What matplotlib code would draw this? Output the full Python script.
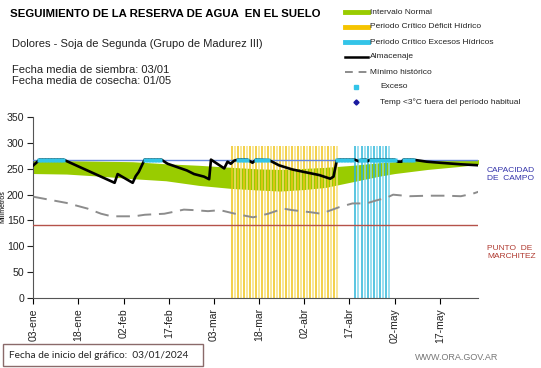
import matplotlib
matplotlib.use('Agg')
import matplotlib.pyplot as plt
from matplotlib.lines import Line2D
from matplotlib.patches import Rectangle

plt.rcParams['font.family'] = ['Liberation Sans', 'DejaVu Sans']

# days counted from 03/01/2024
tick_days = [0, 15, 30, 45, 60, 75, 90, 105, 120, 135]
tick_labels = ['03-ene', '18-ene', '02-feb', '17-feb', '03-mar', '18-mar',
               '02-abr', '17-abr', '02-may', '17-may']

cc = 268     # capacidad de campo
pmp = 142    # punto de marchitez

# intervalo normal
band_days = [0, 11, 22, 33, 44, 55, 66, 75, 82, 90, 97, 106, 115, 120, 131, 142, 148]
band_upper = [266, 266, 265, 264, 260, 257, 253, 250, 249, 251, 253, 257, 262, 264, 267, 268, 268]
band_lower = [241, 240, 236, 231, 227, 218, 212, 209, 207, 210, 214, 225, 236, 241, 249, 255, 259]

# almacenaje
alm_days = [0, 1, 2, 10, 27, 28, 33, 34, 35, 36.3, 37, 42.5, 44.6, 51, 53.4, 56.7, 58.4,
            59, 63.4, 64.5, 65.6, 66.7, 68, 71, 72.8, 74, 78.3, 81.6, 86, 90, 91.7, 95,
            98.6, 99.7, 100.8, 101.5, 106.7, 108, 109, 110.5, 111, 112, 120, 121, 122.3,
            123, 126, 130.7, 135, 141.8, 148]
alm_vals = [257, 262, 268, 268, 223, 240, 223, 236, 244, 260, 268, 268, 260, 247, 240, 235, 230,
            268, 251, 264, 260, 266, 268, 268, 262, 268, 267, 257, 249, 244, 242, 238,
            231, 235, 267, 268, 268, 265, 268, 268, 265, 268, 268, 264, 264,
            268, 268, 264, 262, 259, 257]

# minimo historico
min_days = [0, 11, 18, 22.5, 26, 33.5, 37, 43.5, 46, 50, 53.4, 58, 62, 67, 73, 78, 83, 86,
            92, 95.6, 97, 101.7, 106, 110.6, 114, 117.3, 119.5, 125, 131, 137, 142, 146, 148]
min_vals = [196, 184, 173, 163, 158, 158, 161, 163, 166, 171, 170, 168, 170, 163, 156, 163, 173, 170,
            166, 163, 166, 176, 183, 183, 189, 194, 200, 197, 198, 198, 197, 202, 206]

# dias de excesos (almacenaje en capacidad de campo)
exceso_days = [2, 3, 4, 5, 6, 7, 8, 9, 10, 37, 38, 39, 40, 41, 42, 68, 69, 70, 71, 74, 75, 76, 77, 78,
               101, 102, 103, 104, 105, 106, 108.5, 109, 110, 112, 113, 114, 115, 116, 117, 118, 119,
               120, 123, 124, 125, 126]

# periodos criticos
deficit_days = list(range(66, 102))
excesos_days = list(range(107, 119))
periodo_top = 295

fig = plt.figure(figsize=(5.41, 3.68), dpi=100)
ax = fig.add_axes([0.0616, 0.191, 0.822, 0.490])

ax.fill_between(band_days, band_lower, band_upper, color='#99cc00', lw=0, zorder=1)
for i, d in enumerate(deficit_days):
    ax.vlines(d, 0, periodo_top, color='#f0c419' if i % 2 == 0 else '#f7e07a', lw=1.1, zorder=2)
for i, d in enumerate(excesos_days):
    ax.vlines(d, 0, periodo_top, color='#2bb5d8' if i % 2 == 0 else '#7fd6ec', lw=1.1, zorder=2)

ax.axhline(cc, color='#6688dd', lw=1, zorder=3)
ax.axhline(pmp, color='#b5524a', lw=1, zorder=3)
ax.plot(min_days, min_vals, color='#8c8c8c', lw=1.4, dashes=(7, 4), zorder=4)
ax.plot(alm_days, alm_vals, color='black', lw=1.9, zorder=5)
ax.plot(exceso_days, [cc] * len(exceso_days), ls='none', marker='s', ms=2.2,
        mec='none', color='#33c4e8', zorder=6)

ax.set_xlim(0, 147.7)
ax.set_ylim(0, 350)
ax.set_yticks(range(0, 351, 50))
ax.set_xticks(tick_days)
ax.set_xticklabels(tick_labels, rotation=90, fontsize=7.5, color='#222222')
ax.tick_params(axis='y', labelsize=7.6, colors='#222222', length=4, pad=2.5)
ax.tick_params(axis='x', length=4)
for s in ['top', 'right']:
    ax.spines[s].set_visible(False)
for s in ['left', 'bottom']:
    ax.spines[s].set_color('#555555')
fig.text(3.2 / 541, 1 - 207 / 368, 'Milímetros', rotation=90, fontsize=5.0,
         ha='center', va='center')

# textos de cabecera
fig.text(10 / 541, 1 - 14 / 368, 'SEGUIMIENTO DE LA RESERVA DE AGUA  EN EL SUELO',
         fontsize=8.2, fontweight='bold', va='center')
fig.text(12 / 541, 1 - 44 / 368, 'Dolores - Soja de Segunda (Grupo de Madurez III)',
         fontsize=8, va='center', color='#222222')
fig.text(12 / 541, 1 - 70 / 368, 'Fecha media de siembra: 03/01', fontsize=8,
         va='center', color='#222222')
fig.text(12 / 541, 1 - 81 / 368, 'Fecha media de cosecha: 01/05', fontsize=8,
         va='center', color='#222222')

# leyenda manual
leg_x0, leg_x1, leg_tx = 345 / 541, 368 / 541, 370 / 541
rows = [12, 27, 42, 57, 72, 87, 102]
names = ['Intervalo Normal', 'Periodo Crítico Déficit Hídrico', 'Periodo Crítico Excesos Hídricos',
         'Almacenaje', 'Mínimo histórico', 'Exceso', 'Temp <3°C fuera del período habitual']
for r, n in zip(rows, names):
    y = 1 - r / 368
    tx = leg_tx if r < 85 else 380 / 541
    fig.text(tx, y, n, fontsize=6, va='center', color='#222222')
ys = [1 - r / 368 for r in rows]
fig.add_artist(Line2D([leg_x0, leg_x1], [ys[0]] * 2, color='#99cc00', lw=3.5))
fig.add_artist(Line2D([leg_x0, leg_x1], [ys[1]] * 2, color='#f5c400', lw=3.5))
fig.add_artist(Line2D([leg_x0, leg_x1], [ys[2]] * 2, color='#33c4e8', lw=3.5))
fig.add_artist(Line2D([leg_x0, leg_x1], [ys[3]] * 2, color='black', lw=1.8))
fig.add_artist(Line2D([leg_x0, leg_x1], [ys[4]] * 2, color='#8c8c8c', lw=1.4, dashes=(4, 3)))
fig.add_artist(Line2D([356 / 541], [ys[5]], marker='s', ms=2.2, color='#33c4e8', ls='none'))
fig.add_artist(Line2D([356 / 541], [ys[6]], marker='D', ms=2.6, color='#1a1aa0', ls='none'))

# etiquetas de la derecha
fig.text(487 / 541, 1 - 174 / 368, 'CAPACIDAD\nDE  CAMPO', fontsize=6, color='#3333aa',
         va='center', linespacing=1.2)
fig.text(487 / 541, 1 - 253 / 368, 'PUNTO  DE\nMARCHITEZ', fontsize=6, color='#b03a30',
         va='center', linespacing=1.2)

# pie
fig.add_artist(Rectangle((3 / 541, 1 - 366 / 368), 200 / 541, 22 / 368, fill=False,
                         ec='#8a6a6a', lw=1, transform=fig.transFigure))
fig.text(9 / 541, 1 - 355 / 368, 'Fecha de inicio del gráfico:  03/01/2024', fontsize=7.3,
         va='center', color='#222222', family=['Lato', 'DejaVu Sans'])
fig.text(498 / 541, 1 - 358 / 368, 'WWW.ORA.GOV.AR', fontsize=6.5, color='#777777',
         va='center', ha='right')

fig.savefig('out.png', dpi=100)
